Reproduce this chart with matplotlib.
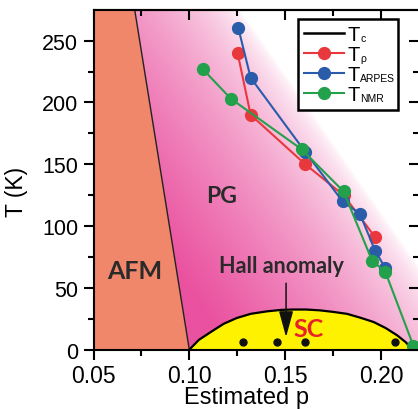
import matplotlib
matplotlib.use('Agg')
import matplotlib.pyplot as plt
import numpy as np
from matplotlib.lines import Line2D
from matplotlib.patches import Polygon

plt.rcParams['font.family'] = ['Liberation Sans', 'DejaVu Sans']

# 数据
p_rho = [0.1252, 0.132, 0.1605, 0.1805, 0.197]
T_rho = [240, 190, 150, 125, 91]
p_arpes = [0.1256, 0.132, 0.1605, 0.180, 0.189, 0.197, 0.2023]
T_arpes = [260, 220, 160, 120, 110, 80, 66]
p_nmr = [0.107, 0.1217, 0.1587, 0.1805, 0.1954, 0.2023, 0.217]
T_nmr = [227, 203, 162, 128, 72, 63, 3]
# Tc 超导穹顶
p_tc = [0.100, 0.105, 0.1125, 0.118, 0.1247, 0.132, 0.1404, 0.148, 0.1543,
        0.161, 0.1683, 0.175, 0.1823, 0.189, 0.1962, 0.2025, 0.2085, 0.213, 0.2165]
T_tc = [0, 8, 15.6, 21, 25.6, 29, 31, 32.2, 32.5,
        32.5, 31.8, 30.6, 29, 26, 22.4, 17.5, 11.6, 6, 0]
# Hall 测量点
p_hall = [0.1282, 0.1456, 0.1606, 0.2072]
T_hall = [6, 6, 6, 6]
# AFM 边界
p_afm = [0.100, 0.0715]
T_afm = [0, 275]

legend_subs = ['c', 'ρ', 'ARPES', 'NMR']

xmin, xmax = 0.05, 0.2204
ymin, ymax = 0, 275

fig = plt.figure(figsize=(4.18, 4.10), dpi=100)
ax = fig.add_axes([93.5 / 418, 59.3 / 410, (420 - 93.5) / 418, 340 / 410])
ax.set_xlim(xmin, xmax)
ax.set_ylim(ymin, ymax)

# PG 渐变背景
xs = np.linspace(xmin, xmax, 400)
ys = np.linspace(ymin, ymax, 400)
X, Y = np.meshgrid(xs, ys)
dx = (X - 0.133) * 1910
dy = (Y - 260) * 1.236
d = dx * 0.822 + dy * 0.570
alpha = np.clip(-d / 200, 0, 1) ** 0.6
pink = np.array([234, 82, 160]) / 255
img = np.ones((400, 400, 4))
for i in range(3):
    img[..., i] = 1 - alpha * (1 - pink[i])
img[..., 3] = 1
im = ax.imshow(img, extent=[xmin, xmax, ymin, ymax], origin='lower', aspect='auto', zorder=0)
pg_poly = Polygon([(p_afm[0], T_afm[0]), (p_afm[1], T_afm[1]), (xmax, ymax), (xmax, ymin)],
                  closed=True, transform=ax.transData, facecolor='none', edgecolor='none')
ax.add_patch(pg_poly)
im.set_clip_path(pg_poly)

# AFM 区域
ax.fill([xmin, xmin, p_afm[1], p_afm[0]], [ymin, ymax, T_afm[1], T_afm[0]],
        color='#F0866A', zorder=1, lw=0)
ax.plot(p_afm, T_afm, color='#222222', lw=1.0, zorder=2)

# SC 穹顶
ax.fill_between(p_tc, T_tc, 0, color='#FFF200', zorder=3, lw=0)
ax.plot(p_tc, T_tc, color='black', lw=1.6, zorder=4)

# 数据线
ax.plot(p_rho, T_rho, '-o', color='#E8383D', lw=1.5, ms=8.5, zorder=5)
ax.plot(p_arpes, T_arpes, '-o', color='#2A5CAA', lw=1.5, ms=8.5, zorder=5)
ax.plot(p_nmr, T_nmr, '-o', color='#22A04B', lw=1.5, ms=8.5, zorder=6)
ax.plot(p_hall, T_hall, 'o', color='#111111', ms=5, zorder=6)

# 文字
ax.text(0.0715, 64, 'AFM', fontsize=18, fontweight='bold', color='#2a2a2a',
        ha='center', va='center', family=['Lato', 'DejaVu Sans'], zorder=7)
ax.text(0.1169, 125, 'PG', fontsize=16.5, fontweight='bold', color='#2a2a2a',
        ha='center', va='center', family=['Lato', 'DejaVu Sans'], zorder=7)
ax.text(0.1483, 68, 'Hall anomaly', fontsize=15.5, fontweight='bold', color='#2a2a2a',
        ha='center', va='center', family=['Lato', 'DejaVu Sans'], zorder=7)
ax.text(0.1625, 17, 'SC', fontsize=18, fontweight='bold', color='#E8202A',
        ha='center', va='center', family=['Lato', 'DejaVu Sans'], zorder=7)
ax.annotate('', xy=(0.1505, 8), xytext=(0.1505, 56),
            arrowprops=dict(arrowstyle='-|>,head_length=0.8,head_width=0.22',
                            mutation_scale=20, color='#111111', lw=1.1),
            zorder=7)

# 坐标轴
ax.set_xticks([0.05, 0.10, 0.15, 0.20])
ax.set_xticklabels(['0.05', '0.10', '0.15', '0.20'])
ax.set_xticks([0.075, 0.125, 0.175], minor=True)
ax.set_yticks([0, 50, 100, 150, 200, 250])
ax.set_yticks([25, 75, 125, 175, 225], minor=True)
ax.tick_params(axis='both', which='both', width=1.5, colors='black')
ax.tick_params(axis='x', which='both', labelsize=16.5)
ax.tick_params(axis='y', which='both', labelsize=15.5)
ax.tick_params(axis='both', which='major', length=7)
ax.tick_params(axis='both', which='minor', length=4.5)
ax.tick_params(axis='x', which='both', direction='out', pad=3, top=False)
ax.tick_params(axis='y', which='both', direction='out', pad=4, right=False)
for side in ['left', 'bottom', 'top', 'right']:
    ax.spines[side].set_linewidth(1.5)
    ax.spines[side].set_zorder(8)

# 顶部和右侧的内向刻度
axt = ax.secondary_xaxis('top')
axt.set_xticks([0.05, 0.10, 0.15, 0.20])
axt.set_xticks([0.075, 0.125, 0.175], minor=True)
axt.tick_params(which='both', direction='in', labeltop=False, width=1.5)
axt.tick_params(which='major', length=7)
axt.tick_params(which='minor', length=4.5)
axt.spines['top'].set_linewidth(1.5)
axr = ax.secondary_yaxis('right')
axr.set_yticks([0, 50, 100, 150, 200, 250])
axr.set_yticks([25, 75, 125, 175, 225], minor=True)
axr.tick_params(which='both', direction='in', labelright=False, width=1.5)
axr.tick_params(which='major', length=8)
axr.tick_params(which='minor', length=5)

ax.set_xlabel('Estimated p', fontsize=17)
ax.xaxis.set_label_coords(0.47, -0.108)
ax.set_ylabel('T (K)', fontsize=16.5)
ax.yaxis.set_label_coords(-0.2, 0.467)

# 图例 (下标手动放置，字号更小)
handles = [
    Line2D([], [], color='black', lw=1.8),
    Line2D([], [], color='#E8383D', lw=1.5, marker='o', ms=8.5),
    Line2D([], [], color='#2A5CAA', lw=1.5, marker='o', ms=8.5),
    Line2D([], [], color='#22A04B', lw=1.5, marker='o', ms=8.5),
]
leg = ax.legend(handles, ['T'] * 4, loc='upper left',
                bbox_to_anchor=(0.626, 0.687, 0.307, 0.286), mode='expand',
                borderaxespad=0, fontsize=14.5, handlelength=2.0, handletextpad=0.15,
                labelspacing=0.05, borderpad=0.3, fancybox=False, framealpha=1,
                edgecolor='black')
leg.get_frame().set_linewidth(1.8)
leg.set_zorder(10)

fig.canvas.draw()
W, H = fig.bbox.width, fig.bbox.height
for txt, sub in zip(leg.get_texts(), legend_subs):
    bb = txt.get_window_extent()
    fig.text((bb.x1 + 0.5) / W, (bb.y0 + 1) / H, sub, fontsize=7.5,
             ha='left', va='bottom', zorder=11)

fig.savefig('out.png', dpi=100)
